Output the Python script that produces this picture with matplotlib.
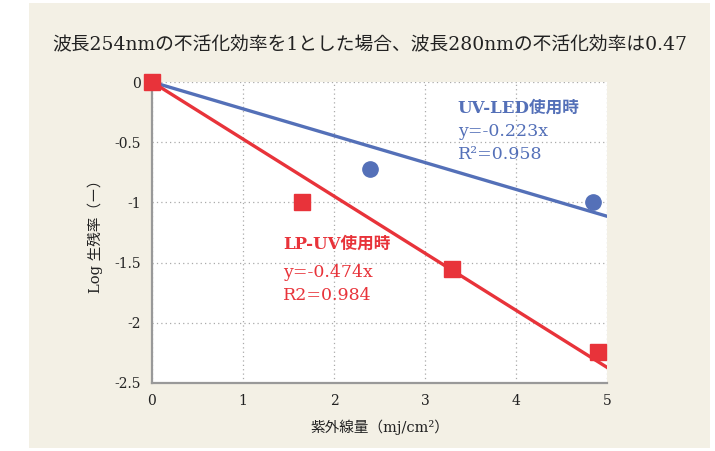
import matplotlib.pyplot as plt
import matplotlib.patches as patches
import numpy as np

# データ
led_x = [2.4, 4.85]
led_y = [-0.72, -1.0]
lp_x = [0, 1.65, 3.3, 4.9]
lp_y = [0, -1.0, -1.55, -2.24]
led_slope = -0.223
lp_slope = -0.474

judul = '波長254nmの不活化効率を1とした場合、波長280nmの不活化効率は0.47'
fam = ['DejaVu Serif', 'Noto Sans CJK JP']
plt.rcParams['font.family'] = fam

blue = '#5470b8'
red = '#e8333a'

fig = plt.figure(figsize=(7.15, 4.51), dpi=100, facecolor='white')
fig.patches.append(patches.Rectangle((29 / 715, 1 - 448 / 451), 681 / 715, 445 / 451,
                                     transform=fig.transFigure, facecolor='#f3f0e5',
                                     edgecolor='none', zorder=-10))
ax = fig.add_axes([152 / 715, 1 - 383 / 451, 455 / 715, 301 / 451])
ax.set_facecolor('white')

xs = np.array([0, 5])
ax.plot(xs, led_slope * xs, color=blue, lw=2.4, zorder=3)
ax.plot(xs, lp_slope * xs, color=red, lw=2.4, zorder=3)
ax.plot(led_x, led_y, 'o', color=blue, ms=11, zorder=4, clip_on=False)
ax.plot(lp_x, lp_y, 's', color=red, ms=11, zorder=5, clip_on=False)

ax.set_xlim(0, 5)
ax.set_ylim(-2.5, 0)
ax.set_xticks(range(6))
ax.set_yticks([0, -0.5, -1, -1.5, -2, -2.5])
ax.set_yticklabels(['0', '-0.5', '-1', '-1.5', '-2', '-2.5'])
ax.tick_params(length=0, labelsize=10, pad=8, colors='#222222')
ax.grid(True, linestyle=(0, (1, 2.5)), color='#aaaaaa', lw=0.9)
ax.set_axisbelow(True)
for s in ['top', 'right']:
    ax.spines[s].set_visible(False)
for s in ['left', 'bottom']:
    ax.spines[s].set_color('#999999')
    ax.spines[s].set_linewidth(1.6)

ax.text(3.36, -0.22, 'UV-LED使用時', color=blue, fontsize=12, fontweight='bold', va='center')
ax.text(3.36, -0.415, 'y=-0.223x', color=blue, fontsize=12.5, va='center')
ax.text(3.36, -0.6, 'R²=0.958', color=blue, fontsize=12.5, va='center')
ax.text(1.44, -1.35, 'LP-UV使用時', color=red, fontsize=12, fontweight='bold', va='center')
ax.text(1.44, -1.58, 'y=-0.474x', color=red, fontsize=12.5, va='center')
ax.text(1.44, -1.77, 'R2=0.984', color=red, fontsize=12.5, va='center')

ax.set_xlabel('紫外線量（mj/cm²）', fontsize=10.5, labelpad=8, color='#222222')
ax.set_ylabel('Log 生残率（ー）', fontsize=10.5, labelpad=8, color='#222222')
fig.text(370 / 715, 1 - 45 / 451, judul, ha='center', va='center', fontsize=13.5, color='#222222')

plt.savefig('out.png', dpi=100)
